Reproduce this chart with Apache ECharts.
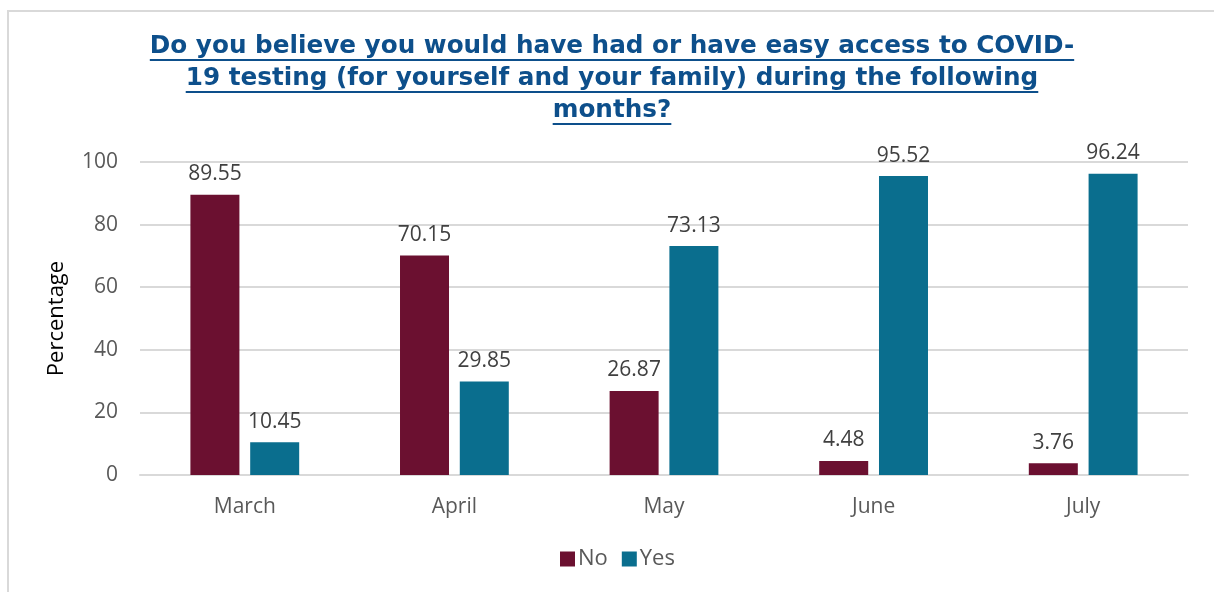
<!DOCTYPE html>
<html>
<head>
<meta charset="utf-8">
<script src="https://cdn.jsdelivr.net/npm/echarts@6/dist/echarts.min.js"></script>
<style>
  html, body { margin: 0; padding: 0; background: #fff; }
  #frame {
    position: absolute; left: 7px; top: 10px; width: 1207px; height: 582px;
    border-top: 2px solid #d9d9d9; border-left: 2px solid #d9d9d9; box-sizing: border-box;
  }
  #chart { position: absolute; left: 0; top: 0; width: 1214px; height: 592px; }
</style>
</head>
<body>
<div id="frame"></div>
<div id="chart"></div>
<script>
const months = ['March', 'April', 'May', 'June', 'July'];
const noValues = [89.55, 70.15, 26.87, 4.48, 3.76];
const yesValues = [10.45, 29.85, 73.13, 95.52, 96.24];
const titleLines = [
  'Do you believe you would have had or have easy access to COVID-',
  '19 testing (for yourself and your family) during the following',
  'months?'
];

const titleColor = '#0d4f8b';
const titleFont = 'bold 24.7px "DejaVu Sans"';
const centerX = 612;
const firstLineY = 47;
const lineH = 32;

// underline under each title line (zrender has no text-decoration)
const ctx = document.createElement('canvas').getContext('2d');
ctx.font = titleFont;
const underlines = titleLines.map((t, i) => {
  const w = ctx.measureText(t).width;
  const y = firstLineY + i * lineH + 13;
  return {
    type: 'line',
    shape: { x1: centerX - w / 2, y1: y, x2: centerX + w / 2, y2: y },
    style: { stroke: titleColor, lineWidth: 2 }
  };
});

const chart = echarts.init(document.getElementById('chart'));
const labelStyle = {
  show: true,
  position: 'top',
  distance: 10,
  color: '#404040',
  fontSize: 21,
  fontFamily: '"Open Sans"'
};
chart.setOption({
  animation: false,
  textStyle: { fontFamily: '"Open Sans"' },
  graphic: [
    {
      type: 'text',
      x: centerX,
      y: firstLineY - lineH / 2,
      style: {
        text: titleLines.join('\n'),
        font: titleFont,
        fill: titleColor,
        align: 'center',
        verticalAlign: 'top',
        lineHeight: lineH
      }
    }
  ].concat(underlines),
  legend: {
    bottom: 17,
    left: 555,
    itemWidth: 15,
    itemHeight: 15,
    itemGap: 14,
    icon: 'rect',
    textStyle: { color: '#595959', fontSize: 22, padding: [0, 0, 0, -2] },
    data: ['No', 'Yes']
  },
  grid: { left: 140, right: 26, top: 162, bottom: 117 },
  xAxis: {
    type: 'category',
    data: months,
    axisLine: { lineStyle: { color: '#d9d9d9', width: 2 } },
    axisTick: { show: false },
    axisLabel: { color: '#595959', fontSize: 21, margin: 22 }
  },
  yAxis: {
    type: 'value',
    min: 0,
    max: 100,
    interval: 20,
    name: 'Percentage',
    nameLocation: 'middle',
    nameGap: 72,
    nameTextStyle: { color: '#000', fontSize: 22 },
    axisLabel: { color: '#595959', fontSize: 21, margin: 22 },
    splitLine: { lineStyle: { color: '#d9d9d9', width: 2 } }
  },
  series: [
    {
      name: 'No',
      type: 'bar',
      data: noValues,
      barWidth: 49,
      barGap: '22%',
      itemStyle: { color: '#6b1030' },
      label: labelStyle
    },
    {
      name: 'Yes',
      type: 'bar',
      data: yesValues,
      barWidth: 49,
      itemStyle: { color: '#0a6e8e' },
      label: labelStyle
    }
  ]
});
</script>
</body>
</html>
